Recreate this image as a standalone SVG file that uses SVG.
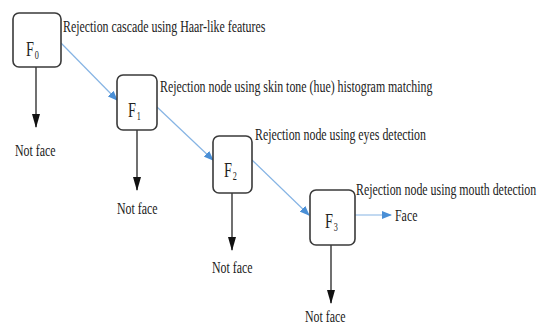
<svg xmlns="http://www.w3.org/2000/svg" width="542" height="326" viewBox="0 0 542 326">
<defs>
<marker id="blueArrow" markerWidth="10" markerHeight="8" refX="9" refY="4" orient="auto" markerUnits="userSpaceOnUse">
<path d="M0,0 L10,4 L0,8 Z" fill="#4a8fd6"/>
</marker>
<marker id="blackArrow" markerWidth="14" markerHeight="9" refX="13" refY="4" orient="auto" markerUnits="userSpaceOnUse">
<path d="M0,0 L14,4 L0,8 Z" fill="#111"/>
</marker>
</defs>
<style>
.box{fill:#fff;stroke:#3a3a3a;stroke-width:1.6}
.lbl{font-family:"Liberation Serif","Times New Roman",serif;font-size:17px;fill:#222}
.fl{font-family:"Liberation Serif","Times New Roman",serif;font-size:21px;fill:#222}
.sub{font-family:"Liberation Serif","Times New Roman",serif;font-size:12px;fill:#222}
.blue{stroke:#86b4e4;stroke-width:1.2;fill:none;marker-end:url(#blueArrow)}
.down{stroke:#111;stroke-width:1.2;fill:none;marker-end:url(#blackArrow)}
</style>
<rect width="542" height="326" fill="#fff"/>
<g id="connectors">
<line class="blue" x1="61" y1="43" x2="117" y2="100"/>
<line class="blue" x1="157" y1="107" x2="213" y2="160"/>
<line class="blue" x1="252" y1="160" x2="309" y2="215"/>
<line class="blue" x1="355" y1="215" x2="391" y2="215"/>
<line class="down" x1="36" y1="67" x2="36" y2="127"/>
<line class="down" x1="137" y1="130" x2="137" y2="190"/>
<line class="down" x1="232" y1="193" x2="232" y2="250"/>
<line class="down" x1="331" y1="245" x2="331" y2="303"/>
</g>
<g id="F0">
<rect class="box" x="13" y="13" width="48" height="54" rx="6"/>
<g transform="translate(26,56) scale(0.68,1)"><text class="fl" x="0" y="0">F</text><text class="sub" x="13" y="3">0</text></g>
<text class="lbl" transform="translate(63,32) scale(0.7,1)">Rejection cascade using Haar-like features</text>
</g>
<g id="F1">
<rect class="box" x="117" y="75" width="40" height="55" rx="6"/>
<g transform="translate(128,117) scale(0.68,1)"><text class="fl" x="0" y="0">F</text><text class="sub" x="13" y="3">1</text></g>
<text class="lbl" transform="translate(160,92) scale(0.7,1)">Rejection node using skin tone (hue) histogram matching</text>
</g>
<g id="F2">
<rect class="box" x="213" y="136" width="39" height="57" rx="6"/>
<g transform="translate(224,177) scale(0.68,1)"><text class="fl" x="0" y="0">F</text><text class="sub" x="13" y="3">2</text></g>
<text class="lbl" transform="translate(255,140) scale(0.7,1)">Rejection node using eyes detection</text>
</g>
<g id="F3">
<rect class="box" x="310" y="190" width="45" height="55" rx="6"/>
<g transform="translate(325,228) scale(0.68,1)"><text class="fl" x="0" y="0">F</text><text class="sub" x="13" y="3">3</text></g>
<text class="lbl" transform="translate(356,195) scale(0.7,1)">Rejection node using mouth detection</text>
</g>
<g id="Face">
<text class="lbl" transform="translate(395,221) scale(0.7,1)">Face</text>
</g>
<g id="NotFace0">
<text class="lbl" transform="translate(15,156) scale(0.7,1)">Not face</text>
</g>
<g id="NotFace1">
<text class="lbl" transform="translate(117,214) scale(0.7,1)">Not face</text>
</g>
<g id="NotFace2">
<text class="lbl" transform="translate(212,273) scale(0.7,1)">Not face</text>
</g>
<g id="NotFace3">
<text class="lbl" transform="translate(305,322) scale(0.7,1)">Not face</text>
</g>
</svg>
